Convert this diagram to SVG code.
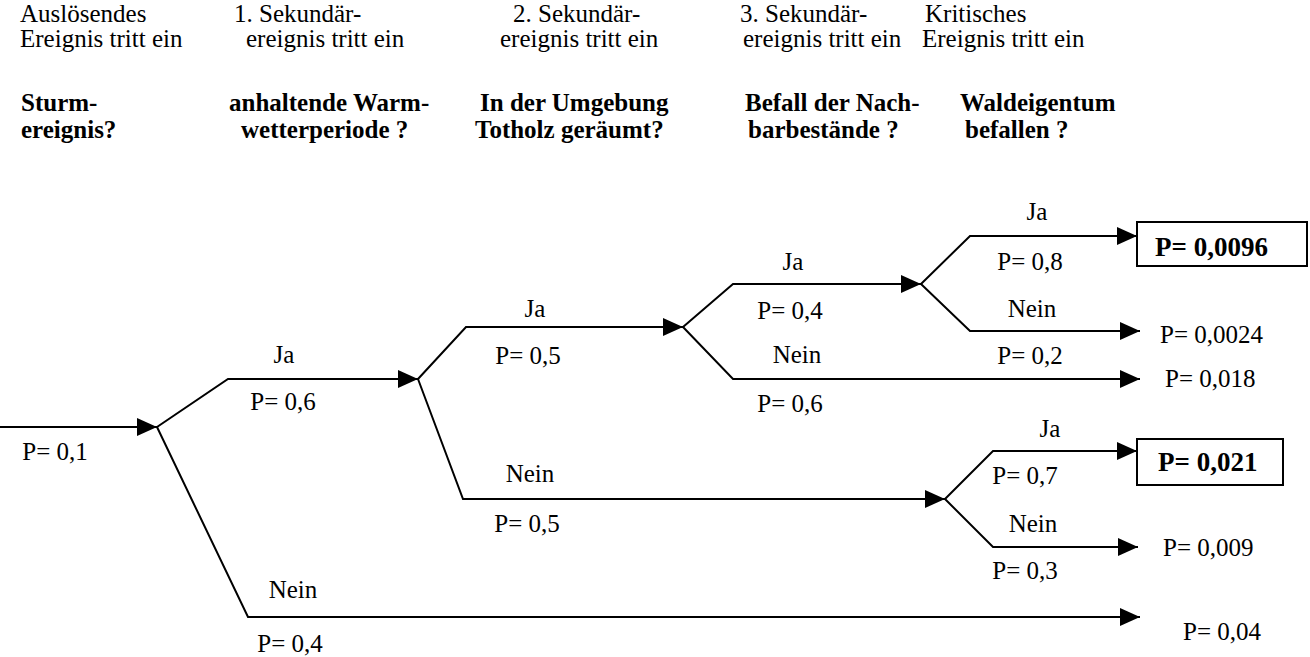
<svg xmlns="http://www.w3.org/2000/svg" width="1310" height="657" viewBox="0 0 1310 657">
<style>
text{font-family:"Liberation Serif","Times New Roman",serif;font-size:25px;fill:#000}
.b{font-weight:bold}
.m{text-anchor:middle}
.r{font-size:27px}
.c{fill:none;stroke:#000;stroke-width:2;marker-end:url(#ah)}
.box{fill:#fff;stroke:#000;stroke-width:2}
</style>
<defs>
<marker id="ah" markerUnits="userSpaceOnUse" markerWidth="22" markerHeight="20" refX="20" refY="9" orient="auto">
<path d="M0,0 L20,9 L0,18 z" fill="#000"/>
</marker>
</defs>
<rect width="1310" height="657" fill="#fff"/>
<g id="headers">
<text x="20" y="22">Auslösendes</text>
<text x="20" y="47">Ereignis tritt ein</text>
<text class="b" x="21" y="111">Sturm-</text>
<text class="b" x="21" y="138">ereignis?</text>
<text x="234" y="22">1. Sekundär-</text>
<text x="246" y="47">ereignis tritt ein</text>
<text class="b" x="229" y="111">anhaltende Warm-</text>
<text class="b" x="241" y="138">wetterperiode ?</text>
<text x="513" y="22">2. Sekundär-</text>
<text x="500" y="47">ereignis tritt ein</text>
<text class="b" x="480" y="111">In der Umgebung</text>
<text class="b" x="475" y="138">Totholz geräumt?</text>
<text x="740" y="22">3. Sekundär-</text>
<text x="743" y="47">ereignis tritt ein</text>
<text class="b" x="745" y="111">Befall der Nach-</text>
<text class="b" x="748" y="138">barbestände ?</text>
<text x="925" y="22">Kritisches</text>
<text x="922" y="47">Ereignis tritt ein</text>
<text class="b" x="960" y="111">Waldeigentum</text>
<text class="b" x="965" y="138">befallen ?</text>
</g>
<g id="connectors">
<path class="c" d="M0,427 H157"/>
<path class="c" d="M157,427 L228,379 H418"/>
<path class="c" d="M157,427 L248,617 H1140"/>
<path class="c" d="M418,379 L466,327 H683"/>
<path class="c" d="M418,379 L463,499 H945"/>
<path class="c" d="M683,327 L733,284 H921"/>
<path class="c" d="M683,327 L733,379 H1140"/>
<path class="c" d="M921,284 L970,236 H1137"/>
<path class="c" d="M921,284 L970,331 H1140"/>
<path class="c" d="M945,499 L993,451 H1137"/>
<path class="c" d="M945,499 L993,547 H1138"/>
</g>
<g id="labels">
<text class="m" x="55" y="460">P= 0,1</text>
<text class="m" x="284" y="363">Ja</text>
<text class="m" x="283" y="410">P= 0,6</text>
<text class="m" x="293" y="598">Nein</text>
<text class="m" x="290" y="652">P= 0,4</text>
<text class="m" x="535" y="317">Ja</text>
<text class="m" x="528" y="364">P= 0,5</text>
<text class="m" x="530" y="482">Nein</text>
<text class="m" x="527" y="532">P= 0,5</text>
<text class="m" x="793" y="270">Ja</text>
<text class="m" x="790" y="319">P= 0,4</text>
<text class="m" x="797" y="363">Nein</text>
<text class="m" x="790" y="412">P= 0,6</text>
<text class="m" x="1037" y="220">Ja</text>
<text class="m" x="1030" y="270">P= 0,8</text>
<text class="m" x="1032" y="317">Nein</text>
<text class="m" x="1030" y="364">P= 0,2</text>
<text class="m" x="1050" y="437">Ja</text>
<text class="m" x="1025" y="484">P= 0,7</text>
<text class="m" x="1033" y="532">Nein</text>
<text class="m" x="1025" y="579">P= 0,3</text>
</g>
<g id="result-0096">
<rect class="box" x="1137" y="222" width="170" height="44"/>
<text class="b r" x="1155" y="256">P= 0,0096</text>
</g>
<g id="result-0024"><text x="1160" y="343">P= 0,0024</text></g>
<g id="result-018"><text x="1165" y="387">P= 0,018</text></g>
<g id="result-021">
<rect class="box" x="1137" y="439" width="146" height="46"/>
<text class="b r" x="1158" y="471">P= 0,021</text>
</g>
<g id="result-009"><text x="1163" y="556">P= 0,009</text></g>
<g id="result-04"><text x="1183" y="640">P= 0,04</text></g>
</svg>
